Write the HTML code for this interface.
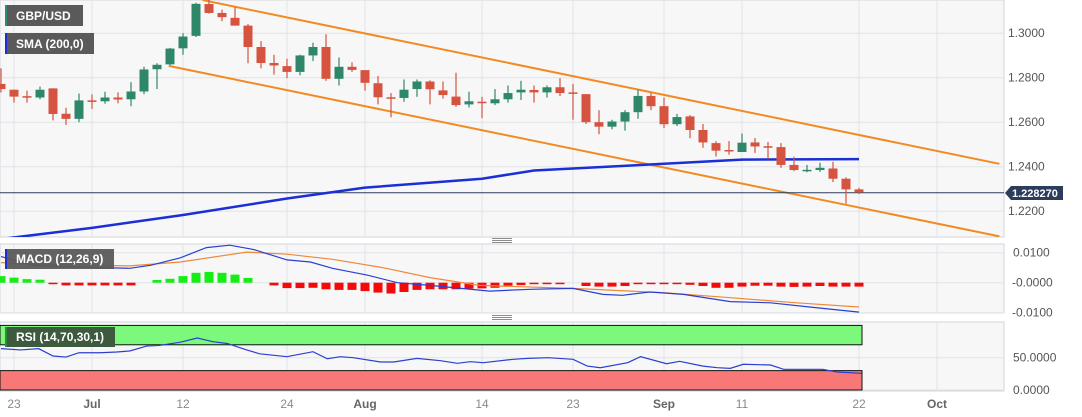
<!DOCTYPE html>
<html><head><meta charset="utf-8"><style>
html,body{margin:0;padding:0;background:#fff;}
svg{display:block;font-family:"Liberation Sans",sans-serif;}
</style></head><body>
<svg id="chart" width="1082" height="417" viewBox="0 0 1082 417" xmlns="http://www.w3.org/2000/svg">
<defs>
<clipPath id="mainClip"><rect x="0" y="0" width="1004" height="237"/></clipPath>
<clipPath id="macdClip"><rect x="0" y="244" width="1004" height="69"/></clipPath>
<clipPath id="rsiClip"><rect x="0" y="322" width="1004" height="69"/></clipPath>
</defs>
<rect x="0" y="0" width="1004" height="237" fill="#f7f7f8" stroke="#d4d6dc"/>
<rect x="0" y="244" width="1004" height="69" fill="#f7f7f8" stroke="#d4d6dc"/>
<rect x="0" y="322" width="1004" height="69" fill="#f7f7f8" stroke="#d4d6dc"/>
<g id="grid"></g>
<g id="rsiBands"></g>
<g id="mainG" clip-path="url(#mainClip)"></g>
<g id="macdG" clip-path="url(#macdClip)"></g>
<g id="rsiG" clip-path="url(#rsiClip)"></g>
<g id="axes"></g>
<g><line x1="492" x2="512" y1="238.5" y2="238.5" stroke="#666" stroke-width="0.8"/><line x1="492" x2="512" y1="240.5" y2="240.5" stroke="#666" stroke-width="0.8"/><line x1="492" x2="512" y1="242.5" y2="242.5" stroke="#666" stroke-width="0.8"/></g>
<g><line x1="492" x2="512" y1="315.5" y2="315.5" stroke="#666" stroke-width="0.8"/><line x1="492" x2="512" y1="317.5" y2="317.5" stroke="#666" stroke-width="0.8"/><line x1="492" x2="512" y1="319.5" y2="319.5" stroke="#666" stroke-width="0.8"/></g>
<g><rect x="5" y="5" width="78" height="21" fill="#5a5a5a"/><rect x="5" y="5" width="2" height="21" fill="#2e8b6e"/><text x="16" y="20" fill="#fff" font-size="12" font-weight="bold">GBP/USD</text></g>
<g><rect x="5" y="33" width="89" height="21" fill="#5a5a5a"/><rect x="5" y="33" width="2" height="21" fill="#1a2fd6"/><text x="16" y="48" fill="#fff" font-size="12" font-weight="bold">SMA (200,0)</text></g>
<g><rect x="5" y="249" width="109" height="20" fill="#5a5a5a" opacity="0.95"/><rect x="5" y="249" width="2" height="20" fill="#1a2fd6"/><text x="16" y="263" fill="#fff" font-size="12" font-weight="bold">MACD (12,26,9)</text></g>
<g><rect x="5" y="327" width="110" height="20" fill="#3e5a3e"/><rect x="5" y="327" width="2" height="20" fill="#2e8b2e"/><text x="16" y="341" fill="#fff" font-size="12" font-weight="bold">RSI (14,70,30,1)</text></g>
<g><path d="M1005 193 L1011 186 L1063 186 L1063 200 L1011 200 Z" fill="#2b3d5b"/><text x="1012" y="197" fill="#fff" font-size="11" font-weight="bold">1.228270</text></g>
</svg>
<script>
const dateIdx=[1,7,14,22,28,37,44,51,57,66,72];
const dateLabels=["23","Jul","12","24","Aug","14","23","Sep","11","22","Oct"];
const priceTicks=[1.30,1.28,1.26,1.24,1.22];
const openV=[1.2772,1.2746,1.2717,1.2711,1.2752,1.2638,1.2615,1.2698,1.2694,1.2711,1.2703,1.2738,1.2838,1.2860,1.2932,1.2988,1.3131,1.3091,1.3069,1.3034,1.2938,1.2866,1.2852,1.2826,1.2900,1.2938,1.2795,1.2849,1.2834,1.2775,1.2712,1.2709,1.2749,1.2783,1.2743,1.2715,1.2680,1.2692,1.2685,1.2703,1.2734,1.2745,1.2734,1.2757,1.2734,1.2726,1.2600,1.2580,1.2603,1.2645,1.2718,1.2672,1.2591,1.2626,1.2565,1.2506,1.2475,1.2466,1.2509,1.2492,1.2488,1.2408,1.2383,1.2385,1.2392,1.2346,1.2298];
const highV=[1.2842,1.2746,1.2742,1.2760,1.2752,1.2665,1.2729,1.2725,1.2737,1.2734,1.2780,1.2849,1.2865,1.2934,1.3000,1.3137,1.3149,1.3106,1.3118,1.3042,1.2965,1.2903,1.2885,1.2903,1.2957,1.2995,1.2891,1.2869,1.2834,1.2808,1.2731,1.2792,1.2792,1.2788,1.2783,1.2822,1.2737,1.2714,1.2749,1.2765,1.2786,1.2765,1.2765,1.2798,1.2772,1.2726,1.2654,1.2611,1.2654,1.2746,1.2731,1.2711,1.2637,1.2632,1.2592,1.2515,1.2515,1.2549,1.2529,1.2511,1.2506,1.2445,1.2408,1.2418,1.2422,1.2352,1.2305];
const lowV=[1.2734,1.2688,1.2688,1.2703,1.2608,1.2588,1.2600,1.2660,1.2683,1.2685,1.2672,1.2726,1.2749,1.2857,1.2903,1.2983,1.3088,1.3054,1.3034,1.2865,1.2842,1.2814,1.2798,1.2811,1.2875,1.2786,1.2765,1.2826,1.2742,1.2680,1.2622,1.2692,1.2714,1.2680,1.2706,1.2669,1.2666,1.2618,1.2677,1.2688,1.2700,1.2688,1.2711,1.2718,1.2611,1.2592,1.2546,1.2568,1.2562,1.2615,1.2654,1.2574,1.2583,1.2528,1.2485,1.2446,1.2454,1.2466,1.2462,1.2434,1.2395,1.2380,1.2375,1.2377,1.2331,1.2234,1.2277];
const closeV=[1.2749,1.2715,1.2711,1.2746,1.2637,1.2615,1.2698,1.2692,1.2711,1.2702,1.2738,1.2837,1.2858,1.2931,1.2985,1.3132,1.3091,1.3072,1.3034,1.2938,1.2866,1.2855,1.2826,1.2900,1.2938,1.2795,1.2849,1.2835,1.2777,1.2712,1.2706,1.2746,1.2783,1.2748,1.2722,1.2677,1.2694,1.2688,1.2703,1.2731,1.2746,1.2734,1.2757,1.2731,1.2729,1.2600,1.2580,1.2603,1.2645,1.2718,1.2672,1.2591,1.2623,1.2565,1.2509,1.2472,1.2471,1.2508,1.2491,1.2488,1.2408,1.2385,1.2386,1.2395,1.2346,1.2298,1.2285];
const smaIdx=[0,7,14,22,28,37,41,51,57,66];
const smaVals=[1.2075,1.2125,1.2183,1.2257,1.2306,1.2346,1.2383,1.2413,1.2432,1.2434];
const chanIdx=[15.5,76.8];
const upperChan=[1.3149,1.2413];
const chanLowIdx=[12.9,76.8];
const lowerChan=[1.2853,1.2087];
const lastPrice=1.22827;
const macdIdx=[0,2.5,5.1,9.9,11.5,13.8,15.8,17.6,19.4,22,23.8,25.5,28.2,30.5,33,37.6,40.7,44,46.3,47.8,49.9,52.5,56.1,59.2,62.2,66];
const macdVals=[0.0087,0.0058,0.0053,0.0048,0.0058,0.0083,0.0117,0.0125,0.0111,0.0076,0.0069,0.0048,0.0025,0.0,-0.0009,-0.0028,-0.0022,-0.0019,-0.0039,-0.0042,-0.0031,-0.0039,-0.0063,-0.0067,-0.0081,-0.0098];
const sigIdx=[0,3.8,9.9,13.8,18.9,22,25.5,29.4,33,36.8,44,50.9,56.1,61.2,66];
const sigVals=[0.0067,0.0061,0.0056,0.0069,0.0102,0.0095,0.0078,0.0050,0.0017,-0.0009,-0.0019,-0.0033,-0.0050,-0.0067,-0.0081];
const histVals=[0.0022,0.0017,0.0012,0.0010,-0.0002,-0.0009,-0.0009,-0.0009,-0.0009,-0.0009,-0.0009,0,0.0009,0.0013,0.0022,0.0033,0.0036,0.0033,0.0027,0.0016,0,-0.0009,-0.0018,-0.0018,-0.0017,-0.0022,-0.0024,-0.0024,-0.0028,-0.0033,-0.0036,-0.0031,-0.0024,-0.0022,-0.0022,-0.0022,-0.0020,-0.0019,-0.0017,-0.0010,-0.0008,-0.0005,-0.0002,-0.0001,0,-0.0011,-0.0013,-0.0013,-0.0011,-0.0002,-0.0001,-0.0005,-0.0005,-0.0007,-0.0011,-0.0017,-0.0017,-0.0013,-0.0010,-0.0010,-0.0013,-0.0014,-0.0013,-0.0011,-0.0013,-0.0013,-0.0013];
const macdTicks=[0.01,0,-0.01];
const macdTickLabels=["0.0100","-0.0000","-0.0100"];
const rsiIdx=[0,1.5,2.9,4,5,6,7.6,8.9,9.9,11.2,12.2,13.8,15.1,16.3,17.4,18.9,19.9,22,24,25.1,26.1,27.1,29.2,30.2,32,33.8,35.1,36.1,37.1,39.4,40.5,42.1,44,45.1,46.1,48.2,49.2,51.2,52.2,54,55.1,56.1,57.1,59.2,60.2,63.2,64.3,66.2];
const rsiVals=[64,62,64,52.6,51,57.7,57.7,58.8,60.4,68,69,74,80.5,74.8,72,62,56,51.6,59.3,48.4,51.6,50,43.3,43.3,49,45.4,41.3,43.8,42.3,47.5,49,50,47.5,37,34.5,42.3,51.6,40.7,44.4,37,34.5,33.5,39.8,38.7,32,32,27.9,25.8];
const rsiTicks=[50,0];
const rsiTickLabels=["50.0000","0.0000"];

const NS="http://www.w3.org/2000/svg";
const X=i=>1+i*13.0;
const YP=p=>33.2+(1.30-p)*2225;
const YM=v=>282.7-v*3000;
const YR=v=>390-v*0.646;
function mk(tag,attrs,parent){const e=document.createElementNS(NS,tag);for(const k in attrs)e.setAttribute(k,attrs[k]);parent.appendChild(e);return e;}
const grid=document.getElementById('grid'),axes=document.getElementById('axes');
const mainG=document.getElementById('mainG'),macdG=document.getElementById('macdG'),rsiG=document.getElementById('rsiG');
const bands=document.getElementById('rsiBands');

dateIdx.forEach((d,k)=>{
  [[0,237],[244,313],[322,391]].forEach(([a,b])=>{
    const l=mk('line',{x1:X(d),x2:X(d),y1:a,y2:b,stroke:'#e2e3e8'},grid);
    
    
  });
  const bold=(dateLabels[k].length===3);
  const t=mk('text',{x:X(d),y:408,'text-anchor':'middle','font-size':12,fill:bold?'#666':'#8a8a8a','font-weight':bold?'bold':'normal'},axes);
  t.textContent=dateLabels[k];
  
  
});
priceTicks.forEach(p=>{
  const l=mk('line',{x1:0,x2:1004,y1:YP(p),y2:YP(p),stroke:'#e2e3e8'},grid);
  
  
  const t=mk('text',{x:1008,y:YP(p)+4,'font-size':12,fill:'#555'},axes);
  t.textContent=p.toFixed(4);
  
  
});
macdTicks.forEach((v,k)=>{
  const l=mk('line',{x1:0,x2:1004,y1:YM(v),y2:YM(v),stroke:'#e2e3e8'},grid);
  
  
  const t=mk('text',{x:v<=0?1012:1013,y:YM(v)+4,'font-size':12,fill:'#555'},axes);
  t.textContent=macdTickLabels[k];
  
  
});
rsiTicks.forEach((v,k)=>{
  const l=mk('line',{x1:0,x2:1004,y1:YR(v),y2:YR(v),stroke:'#e2e3e8'},grid);
  
  
  const t=mk('text',{x:1013,y:YR(v)+4,'font-size':12,fill:'#555'},axes);
  t.textContent=rsiTickLabels[k];
  
  
});
const lastX=X(openV.length-1)+3;
const gb=mk('rect',{x:0,y:YR(100),width:lastX,height:YR(70)-YR(100),fill:'#7cf87c',stroke:'#111','stroke-width':1},bands);


const rb=mk('rect',{x:0,y:YR(30),width:lastX,height:YR(0)-YR(30),fill:'#f87878',stroke:'#111','stroke-width':1},bands);



const up=mk('line',{x1:X(chanIdx[0]),y1:YP(upperChan[0]),x2:X(chanIdx[1]),y2:YP(upperChan[1]),stroke:'#f28a22','stroke-width':2},mainG);


const lo=mk('line',{x1:X(chanLowIdx[0]),y1:YP(lowerChan[0]),x2:X(chanLowIdx[1]),y2:YP(lowerChan[1]),stroke:'#f28a22','stroke-width':2},mainG);


const lp=mk('line',{x1:0,x2:1004,y1:YP(lastPrice),y2:YP(lastPrice),stroke:'#2b3d5b','stroke-width':1},mainG);


const sma=mk('polyline',{points:smaIdx.map((d,k)=>X(d)+','+YP(smaVals[k])).join(' '),fill:'none',stroke:'#1a2fd6','stroke-width':2.5},mainG);


openV.forEach((o,i)=>{
  const c=closeV[i],up=c>=o,col=up?'#2e8769':'#d5533f';
  const x=X(i);
  const w=mk('line',{x1:x,x2:x,y1:YP(highV[i]),y2:YP(lowV[i]),stroke:col,'stroke-width':1.2},mainG);
  
  
  const top=YP(Math.max(o,c)),h=Math.max(1.5,Math.abs(YP(o)-YP(c)));
  const b=mk('rect',{x:x-4.5,y:top,width:9,height:h,fill:col},mainG);
  
  
});
histVals.forEach((v,i)=>{
  if(v===0)return;
  const y0=YM(0),y1=YM(v);
  const r=mk('rect',{x:X(i)-4.5,y:Math.min(y0,y1),width:9,height:Math.max(1.5,Math.abs(y1-y0)),fill:v>0?'#14ee14':'#f50a0a'},macdG);
  
  
});
const sig=mk('polyline',{points:sigIdx.map((d,k)=>X(d)+','+YM(sigVals[k])).join(' '),fill:'none',stroke:'#f0883a','stroke-width':1.2},macdG);


const ml=mk('polyline',{points:macdIdx.map((d,k)=>X(d)+','+YM(macdVals[k])).join(' '),fill:'none',stroke:'#2a3fd0','stroke-width':1.2},macdG);


const rl=mk('polyline',{points:rsiIdx.map((d,k)=>X(d)+','+YR(rsiVals[k])).join(' '),fill:'none',stroke:'#2a3fd0','stroke-width':1.2},rsiG);


</script>
</body></html>
